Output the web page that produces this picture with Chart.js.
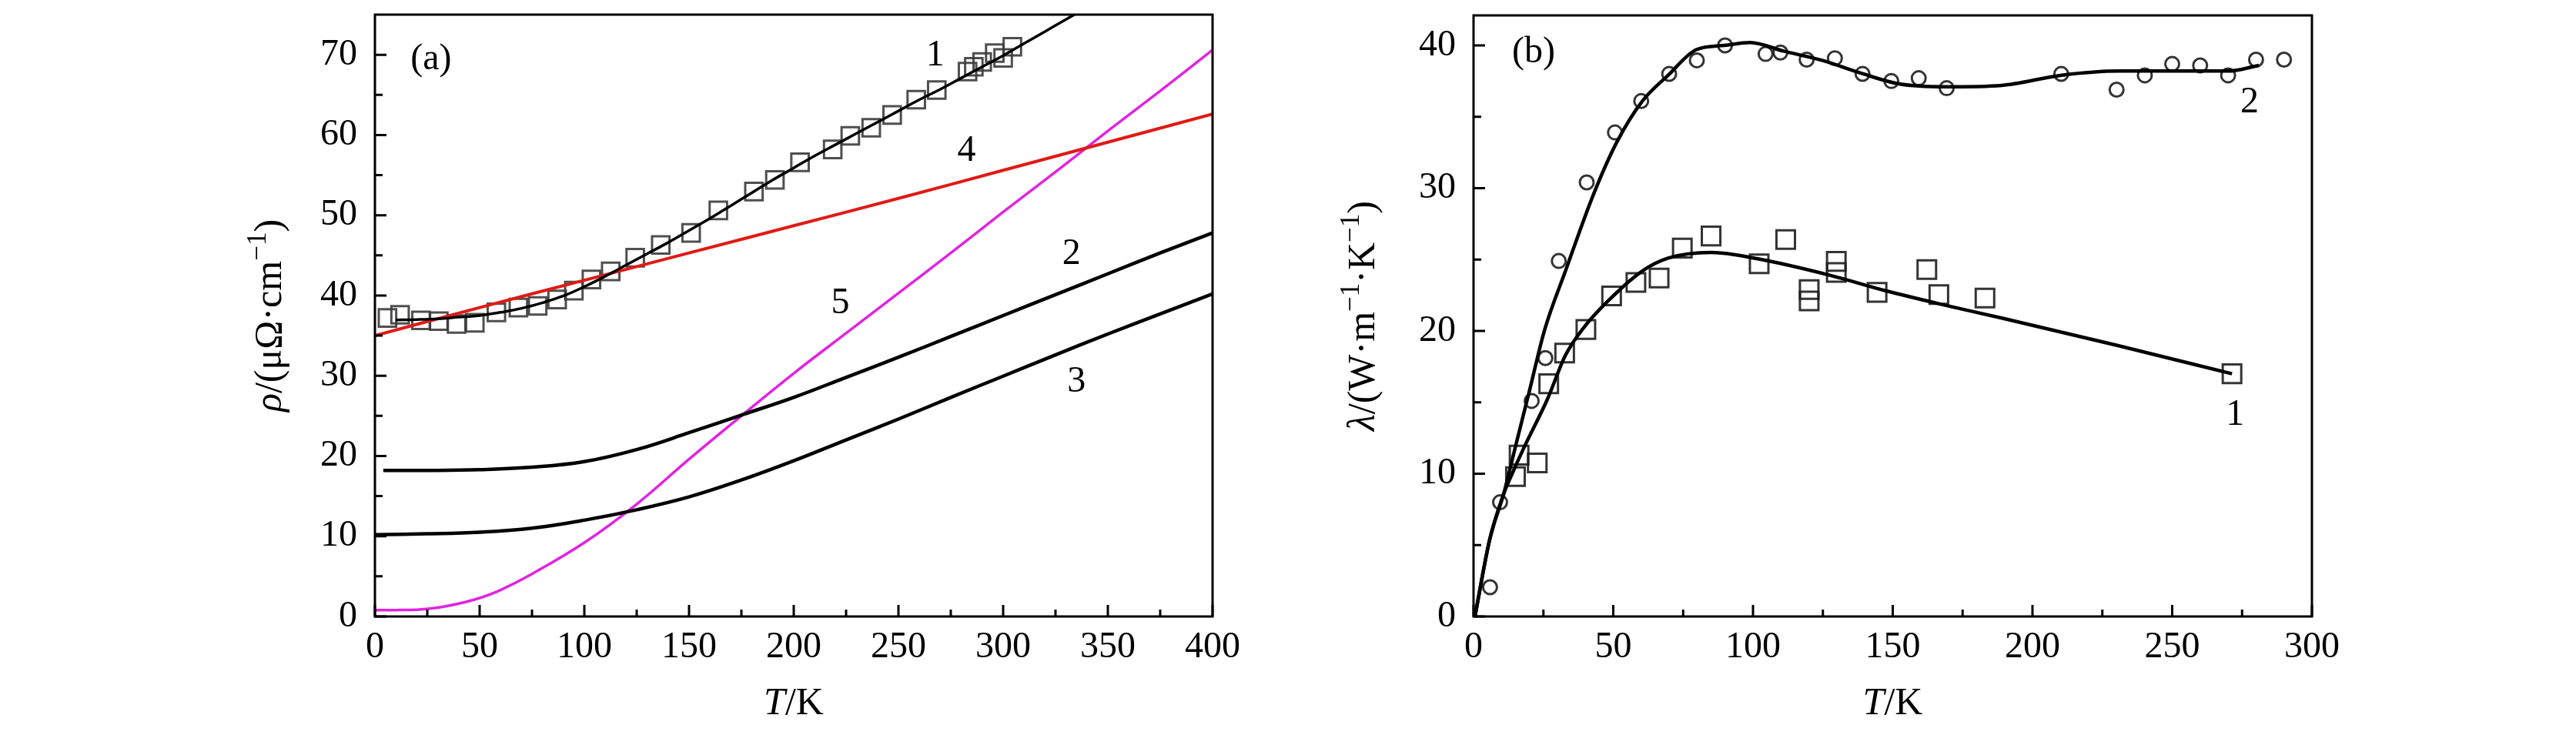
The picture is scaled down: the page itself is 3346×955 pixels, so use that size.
<!DOCTYPE html>
<html>
<head>
<meta charset="utf-8">
<script src="https://cdn.jsdelivr.net/npm/chart.js@4.4.0/dist/chart.umd.min.js"></script>
<style>
  html, body { margin: 0; padding: 0; background: #fff; }
  #wrap { position: relative; width: 3346px; height: 955px; }
  .panel { position: absolute; top: 0; width: 1673px; height: 955px; }
</style>
</head>
<body>
<div id="wrap">
  <div class="panel" style="left:0"><canvas id="chartA" width="1673" height="955"></canvas></div>
  <div class="panel" style="left:1673px"><canvas id="chartB" width="1673" height="955"></canvas></div>
</div>
<script>
// ---- panel (a): resistivity vs T ----
var xTicksA = [0, 50, 100, 150, 200, 250, 300, 350, 400];
var yTicksA = [0, 10, 20, 30, 40, 50, 60, 70];

// measured points (squares)
var sqT = [6, 12, 22, 30.5, 39, 47.7, 58, 68.5, 77.7, 87, 95, 103.4, 112.6, 124.3, 136.5, 151, 164, 181, 191, 203, 218.6, 227, 237, 247, 258.5, 268.3, 283, 286, 290, 296, 300, 304.4];
var sqRho = [37.2, 37.6, 36.9, 36.8, 36.45, 36.6, 37.9, 38.5, 38.7, 39.5, 40.6, 42.0, 43.0, 44.7, 46.3, 47.8, 50.6, 52.95, 54.4, 56.6, 58.2, 59.9, 60.9, 62.5, 64.4, 65.6, 67.9, 68.5, 69.1, 70.2, 69.6, 71.0];

// curve 1 (fit through squares)
var t1 = [10, 20, 30, 40, 50, 60, 70, 80, 90, 100, 110, 120, 130, 140, 150, 160, 170, 180, 190, 200, 210, 220, 230, 240, 250, 260, 270, 280, 290, 300, 310, 320, 330, 340];
var rho1 = [36.95, 37.0, 37.1, 37.3, 37.5, 37.9, 38.4, 39.1, 39.95, 41.1, 42.4, 43.8, 45.2, 46.6, 48.1, 49.6, 51.2, 52.8, 54.4, 55.9, 57.4, 58.8, 60.2, 61.6, 63.0, 64.4, 65.7, 67.1, 68.5, 69.9, 71.4, 72.9, 74.4, 75.9];

// curves 2 and 3
var t2 = [4, 25, 50, 75, 100, 125, 150, 175, 200, 225, 250, 275, 300, 325, 350, 375, 400];
var rho2 = [18.2, 18.2, 18.3, 18.6, 19.3, 20.8, 22.9, 25.1, 27.3, 29.8, 32.3, 34.9, 37.5, 40.1, 42.7, 45.3, 47.8];
var t3 = [0, 25, 50, 75, 100, 125, 150, 175, 200, 225, 250, 275, 300, 325, 350, 375, 400];
var rho3 = [10.2, 10.3, 10.5, 11.0, 12.0, 13.3, 14.9, 17.0, 19.4, 22.0, 24.6, 27.3, 29.95, 32.6, 35.2, 37.7, 40.2];

// curve 4 (red) and 5 (magenta)
var t4 = [0, 50, 100, 150, 200, 250, 300, 350, 400];
var rho4 = [35.0, 38.5, 41.9, 45.3, 48.7, 52.1, 55.6, 59.1, 62.6];
var t5 = [0, 10, 20, 30, 40, 50, 60, 75, 100, 125, 150, 175, 200, 225, 250, 275, 300, 325, 350, 375, 400];
var rho5 = [0.8, 0.8, 0.85, 1.1, 1.6, 2.3, 3.3, 5.3, 9.2, 14.0, 19.6, 25.0, 30.3, 35.3, 40.3, 45.3, 50.4, 55.4, 60.5, 65.5, 70.6];

// ---- panel (b): thermal conductivity vs T ----
var xTicksB = [0, 50, 100, 150, 200, 250, 300];
var yTicksB = [0, 10, 20, 30, 40];

var circT = [5.9, 9.5, 20.8, 25.7, 30.5, 40.5, 50.6, 60, 70, 79.9, 90, 104.5, 109.8, 119.2, 129.3, 139.2, 149.5, 159.3, 169.3, 210.3, 230.1, 240.2, 250, 260, 270, 280, 290];
var circLam = [2.05, 8.0, 15.1, 18.1, 24.9, 30.4, 33.9, 36.1, 38.0, 38.95, 40.0, 39.4, 39.5, 39.0, 39.1, 38.0, 37.5, 37.7, 37.0, 38.0, 36.9, 37.9, 38.7, 38.6, 37.9, 39.0, 39.0];

var boxT = [15, 16.3, 22.8, 26.9, 32.6, 40.2, 49.4, 58.1, 66.4, 74.7, 85, 102.2, 111.7, 120.1, 120.1, 129.8, 129.8, 144.4, 162.2, 166.5, 183, 271.4];
var boxLam = [9.8, 11.3, 10.75, 16.3, 18.45, 20.1, 22.45, 23.4, 23.7, 25.8, 26.65, 24.7, 26.4, 22.9, 22.1, 24.87, 24.1, 22.7, 24.3, 22.55, 22.3, 17.0];

var tL2 = [0.5, 5.8, 10.8, 15, 20, 25.4, 32.9, 43, 51.2, 60.4, 69.6, 79.7, 89.8, 98.9, 110.9, 124.7, 138.5, 152.3, 168.8, 189, 210, 231, 250, 270, 281];
var lam2 = [0, 5.4, 8.6, 11.9, 15.8, 20.05, 24.2, 29.6, 33.2, 36.1, 37.9, 39.7, 40.0, 40.2, 39.6, 38.95, 38.06, 37.3, 37.1, 37.2, 37.9, 38.2, 38.2, 38.2, 38.6];
var tL1 = [0.5, 5.8, 10.8, 13.6, 18.1, 26.4, 32.9, 39.3, 47.6, 60.4, 69.6, 85.2, 101.7, 127.5, 147.7, 168.8, 189, 230, 271.4];
var lam1 = [0, 5.4, 8.6, 9.9, 11.85, 15.2, 18.3, 20.2, 22.0, 24.2, 25.1, 25.5, 25.05, 23.9, 22.8, 21.8, 20.9, 19.0, 17.0];

var SERIF = '"Liberation Serif", "DejaVu Serif", serif';
Chart.defaults.font.family = SERIF;
Chart.defaults.color = '#000';

function pts(xs, ys) {
  return xs.map(function(x, i) { return { x: x, y: ys[i] }; });
}
// smooth = 'monotone' for curves with a peak, otherwise plain bezier tension
function curve(xs, ys, color, w, smooth) {
  var ds = { data: pts(xs, ys), showLine: true, borderColor: color, borderWidth: w,
             pointRadius: 0, fill: false, order: 1 };
  if (smooth === 'monotone') ds.cubicInterpolationMode = 'monotone';
  else ds.tension = 0.4;
  return ds;
}
function marks(xs, ys, style, r, color) {
  return { data: pts(xs, ys), showLine: false, pointStyle: style, pointRadius: r,
           pointBorderWidth: 3, pointBorderColor: color,
           pointBackgroundColor: 'rgba(0,0,0,0)', order: 2 };
}
function steps(from, to, step) {
  var out = [];
  for (var v = from; v <= to + 1e-9; v += step) out.push(v);
  return out;
}

function fontFor(p, size) {
  return (p.i ? 'italic ' : '') + Math.round(p.sup ? size * 0.7 : size) + 'px ' + SERIF;
}
// mixed italic / upright / superscript text, centred on (x, y) baseline
function drawRich(ctx, parts, x, y, size, rotate) {
  ctx.save();
  ctx.translate(x, y);
  if (rotate) ctx.rotate(-Math.PI / 2);
  ctx.textBaseline = 'alphabetic';
  ctx.textAlign = 'left';
  var total = 0;
  parts.forEach(function(p) {
    ctx.font = fontFor(p, size);
    p.w = ctx.measureText(p.t).width;
    total += p.w;
  });
  var cx = -total / 2;
  parts.forEach(function(p) {
    ctx.font = fontFor(p, size);
    ctx.fillText(p.t, cx, p.sup ? -size * 0.4 : 0);
    cx += p.w;
  });
  ctx.restore();
}

// frame, inward ticks, curve labels and axis titles
var decor = {
  id: 'decor',
  afterDraw: function(chart, args, o) {
    var ctx = chart.ctx, a = chart.chartArea;
    var xs = chart.scales.x, ys = chart.scales.y;
    ctx.save();
    ctx.strokeStyle = '#000';
    ctx.lineWidth = 3;
    ctx.strokeRect(a.left, a.top, a.right - a.left, a.bottom - a.top);
    ctx.beginPath();
    o.xMajor.forEach(function(v) { var p = xs.getPixelForValue(v); ctx.moveTo(p, a.bottom); ctx.lineTo(p, a.bottom - 15); });
    o.xMinor.forEach(function(v) { var p = xs.getPixelForValue(v); ctx.moveTo(p, a.bottom); ctx.lineTo(p, a.bottom - 9); });
    o.yMajor.forEach(function(v) { var p = ys.getPixelForValue(v); ctx.moveTo(a.left, p); ctx.lineTo(a.left + 15, p); });
    o.yMinor.forEach(function(v) { var p = ys.getPixelForValue(v); ctx.moveTo(a.left, p); ctx.lineTo(a.left + 10, p); });
    ctx.stroke();

    ctx.fillStyle = '#000';
    ctx.textAlign = 'center';
    ctx.textBaseline = 'middle';
    ctx.font = '48px ' + SERIF;
    o.labels.forEach(function(l) {
      ctx.fillText(l.text, xs.getPixelForValue(l.x), ys.getPixelForValue(l.y));
    });
    drawRich(ctx, o.xTitle, (a.left + a.right) / 2, 928, 50, false);
    drawRich(ctx, o.yTitle, o.yTitleX, (a.top + a.bottom) / 2, 50, true);
    ctx.restore();
  }
};

function makeOptions(xMax, xTicks, yMax, yTicks, yWidth, rightPad, decorOpts) {
  return {
    responsive: false,
    animation: false,
    devicePixelRatio: 1,
    layout: { padding: { left: 0, top: 14, right: rightPad, bottom: 0 } },
    plugins: { legend: { display: false }, tooltip: { enabled: false }, decor: decorOpts },
    scales: {
      x: {
        type: 'linear', min: 0, max: xMax,
        grid: { display: false, drawTicks: false },
        border: { display: false },
        ticks: { padding: 12, autoSkip: false, maxRotation: 0, font: { size: 48 } },
        afterBuildTicks: function(s) { s.ticks = xTicks.map(function(v) { return { value: v }; }); },
        afterFit: function(s) { s.height = 955 - 801; s.paddingLeft = 0; s.paddingRight = 0; }
      },
      y: {
        type: 'linear', min: 0, max: yMax,
        grid: { display: false, drawTicks: false },
        border: { display: false },
        ticks: { padding: 23, autoSkip: false, font: { size: 48 } },
        afterBuildTicks: function(s) { s.ticks = yTicks.map(function(v) { return { value: v }; }); },
        afterFit: function(s) { s.width = yWidth; s.paddingTop = 0; s.paddingBottom = 0; }
      }
    }
  };
}

var xTitle = [{ t: 'T', i: true }, { t: '/K' }];

new Chart(document.getElementById('chartA'), {
  type: 'scatter',
  data: {
    datasets: [
      marks(sqT, sqRho, 'rect', 16, 'rgba(60,60,60,0.9)'),
      curve(t1, rho1, '#000', 3.5),
      curve(t2, rho2, '#000', 4.5),
      curve(t3, rho3, '#000', 4.5),
      curve(t4, rho4, '#e01a14', 4),
      curve(t5, rho5, '#e024e0', 3.5)
    ]
  },
  options: makeOptions(400, xTicksA, 75, yTicksA, 487, 98, {
    xMajor: xTicksA, xMinor: steps(25, 375, 50),
    yMajor: yTicksA, yMinor: steps(5, 65, 10),
    labels: [
      { text: '(a)', x: 26.8, y: 69.4 },
      { text: '1', x: 267.6, y: 69.9 },
      { text: '4', x: 282.5, y: 58.0 },
      { text: '2', x: 332.6, y: 45.1 },
      { text: '3', x: 335, y: 29.2 },
      { text: '5', x: 222.2, y: 39.0 }
    ],
    xTitle: xTitle,
    yTitle: [{ t: 'ρ', i: true }, { t: '/(μΩ·cm' }, { t: '−1', sup: true }, { t: ')' }],
    yTitleX: 365
  }),
  plugins: [decor]
});

new Chart(document.getElementById('chartB'), {
  type: 'scatter',
  data: {
    datasets: [
      marks(circT, circLam, 'circle', 9, 'rgba(30,30,30,0.9)'),
      marks(boxT, boxLam, 'rect', 17, 'rgba(30,30,30,0.9)'),
      curve(tL2, lam2, '#000', 4.5, 'monotone'),
      curve(tL1, lam1, '#000', 4.5, 'monotone')
    ]
  },
  options: makeOptions(300, xTicksB, 42.1, yTicksB, 241, 343, {
    xMajor: xTicksB, xMinor: steps(25, 275, 50),
    yMajor: yTicksB, yMinor: steps(5, 35, 10),
    labels: [
      { text: '(b)', x: 21.5, y: 39.5 },
      { text: '2', x: 277.7, y: 36.0 },
      { text: '1', x: 272.5, y: 14.1 }
    ],
    xTitle: xTitle,
    yTitle: [{ t: 'λ', i: true }, { t: '/(W·m' }, { t: '−1', sup: true }, { t: '·K' }, { t: '−1', sup: true }, { t: ')' }],
    yTitleX: 112
  }),
  plugins: [decor]
});
</script>
</body>
</html>
